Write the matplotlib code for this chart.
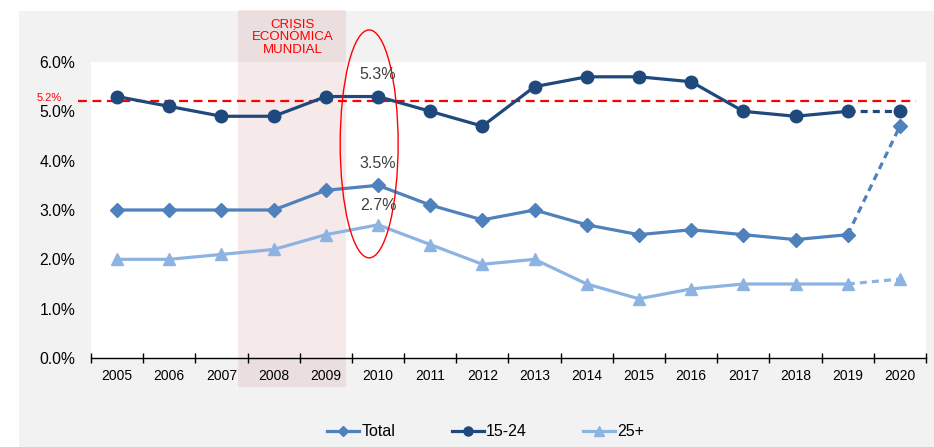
import matplotlib
matplotlib.use("Agg")
import matplotlib.pyplot as plt
from matplotlib.patches import Rectangle, Ellipse
from matplotlib.lines import Line2D
import matplotlib.transforms as mtransforms

plt.rcParams['font.family'] = ['Liberation Sans', 'DejaVu Sans']

years = ["2005", "2006", "2007", "2008", "2009", "2010", "2011", "2012",
         "2013", "2014", "2015", "2016", "2017", "2018", "2019", "2020"]
total = [3.0, 3.0, 3.0, 3.0, 3.4, 3.5, 3.1, 2.8, 3.0, 2.7, 2.5, 2.6, 2.5, 2.4, 2.5, 4.7]
youth = [5.3, 5.1, 4.9, 4.9, 5.3, 5.3, 5.0, 4.7, 5.5, 5.7, 5.7, 5.6, 5.0, 4.9, 5.0, 5.0]
adults = [2.0, 2.0, 2.1, 2.2, 2.5, 2.7, 2.3, 1.9, 2.0, 1.5, 1.2, 1.4, 1.5, 1.5, 1.5, 1.6]
reference_level = 5.2
reference_label = "5.2%"
crisis_label = "CRISIS\nECONÓMICA\nMUNDIAL"
highlight_year = "2010"
series_names = ["Total", "15-24", "25+"]
yticks = [0, 1, 2, 3, 4, 5, 6]

c_total = "#4F81BD"
c_youth = "#1F497D"
c_adult = "#8DB3E2"

fig = plt.figure(figsize=(9.34, 4.47), dpi=100, facecolor="white")
fig.patches.append(Rectangle((19/934, 0), 1, (447-11)/447, transform=fig.transFigure,
                             facecolor="#F2F2F2", edgecolor="none", zorder=-10))
ax = fig.add_axes([91/934, (447-358)/447, 835/934, 296/447])
ax.set_facecolor("white")

x = list(range(len(years)))
n = len(years)

def draw(vals, color, marker, ms):
    ax.plot(x[:n-1], vals[:n-1], color=color, lw=2.3, marker=marker, ms=ms,
            markeredgecolor=color, zorder=4, solid_capstyle="round")
    ax.plot(x[n-2:], vals[n-2:], color=color, lw=2.3, ls=(0, (2.2, 1.6)),
            marker=None, zorder=4)
    ax.plot(x[n-1:], vals[n-1:], color=color, lw=0, marker=marker, ms=ms,
            markeredgecolor=color, zorder=4)

draw(youth, c_youth, "o", 9)
draw(total, c_total, "D", 7.3)
draw(adults, c_adult, "^", 9)

ax.set_xlim(-0.5, n - 0.5)
ax.set_ylim(0, 6)

# reference line
ax.plot([-0.75, 15.31], [reference_level, reference_level], color="#FF0000", lw=1.6,
        ls=(0, (4, 2.5)), zorder=3, clip_on=False)
ax.text(-1.05, reference_level + 0.07, reference_label, color="#FF0000", fontsize=8,
        ha="right", va="center")

# crisis shading
trans = mtransforms.blended_transform_factory(ax.transData, ax.transAxes)
ax.add_patch(Rectangle((2.32, -29/296), 2.07, (387-10)/296, transform=trans,
                       facecolor=(0.75, 0.35, 0.35), alpha=0.13, edgecolor="none",
                       zorder=1, clip_on=False))
ax.text(3.36, 1.084, crisis_label, transform=trans, color="#FF0000", fontsize=9.5,
        ha="center", va="center", linespacing=1.05)

# highlight ellipse
hx = years.index(highlight_year)
ax.add_patch(Ellipse((hx - 0.17, 4.34), 1.11, 4.62, fill=False, edgecolor="#FF0000",
                     lw=1.0, zorder=5, clip_on=False))
for val, ypos in [(youth[hx], 5.74), (total[hx], 3.94), (adults[hx], 3.10)]:
    ax.text(hx, ypos, f"{val:.1f}%", color="#404040", fontsize=11.5, ha="center", va="center",
            zorder=6)

# axes styling
for s in ["top", "right", "left"]:
    ax.spines[s].set_visible(False)
ax.spines["bottom"].set_color("black")
ax.spines["bottom"].set_linewidth(1.0)
ax.set_yticks(yticks)
ax.set_yticklabels([f"{v:.1f}%" for v in yticks], fontsize=11.3)
ax.tick_params(axis="y", length=0, pad=11.5)
ax.set_xticks([i - 0.5 for i in range(n + 1)])
ax.set_xticklabels([])
ax.set_xticks(x, minor=True)
ax.set_xticklabels(years, minor=True, fontsize=10)
ax.tick_params(axis="x", which="major", direction="inout", length=7, width=1, color="black")
ax.tick_params(axis="x", which="minor", length=0, pad=8)

# legend
handles = [Line2D([], [], color=c_total, lw=2.3, marker="D", ms=5),
           Line2D([], [], color=c_youth, lw=2.3, marker="o", ms=6.5),
           Line2D([], [], color=c_adult, lw=2.3, marker="^", ms=7)]
fig.legend(handles, series_names, loc="center", bbox_to_anchor=(0.52, 0.034), ncol=3,
           frameon=False, fontsize=11.5, handlelength=2.0, handletextpad=0.15,
           columnspacing=3.5)

fig.savefig("out.png", dpi=100, facecolor="white")
